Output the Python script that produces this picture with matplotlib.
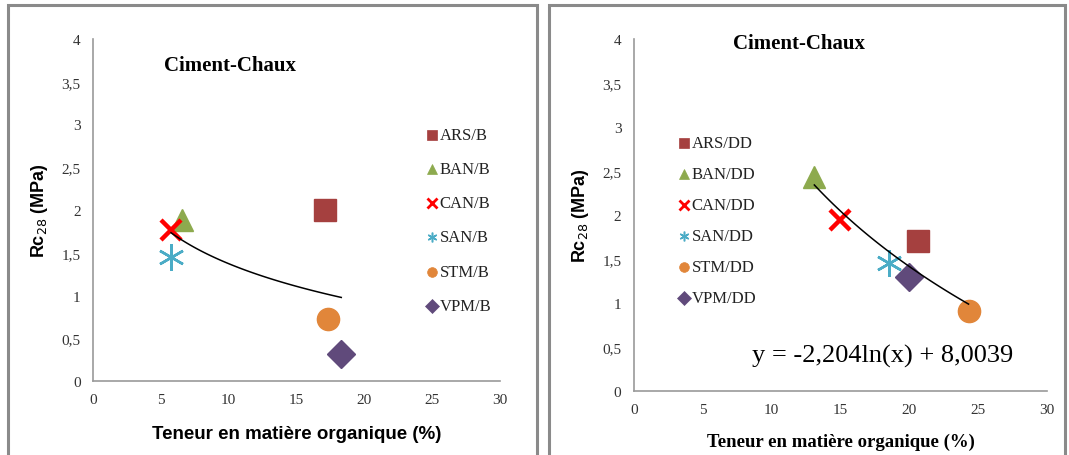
import numpy as np
import matplotlib
matplotlib.use("Agg")
import matplotlib.pyplot as plt
from matplotlib.patches import Rectangle

# --- DATA ---
NAMES = ['ARS', 'BAN', 'CAN', 'SAN', 'STM', 'VPM']
X_B = [17.1, 6.55, 5.75, 5.75, 17.3, 18.3]
Y_B = [2.00, 1.88, 1.77, 1.45, 0.72, 0.31]
X_DD = [20.6, 13.1, 14.95, 18.5, 24.3, 20.0]
Y_DD = [1.70, 2.43, 1.94, 1.46, 0.91, 1.29]
EQ_DD = 'y = -2,204ln(x) + 8,0039'

STAR = (6, 2, 0)
MARKERS = ['s', '^', 'x', STAR, 'o', 'D']
COLORS = ['#A5403F', '#8DAA4E', '#FF0000', '#4BACC6', '#E1863A', '#604A7B']
SIZES = [16, 16, 14, 19, 16, 14]

SERIF = 'Liberation Serif'
SANS = 'Liberation Sans'


def log_trend(x, y):
    a, b = np.polyfit(np.log(x), y, 1)
    xs = np.linspace(min(x), max(x), 100)
    return xs, a * np.log(xs) + b


def edge_width(m, big=True):
    if m == 'x':
        return 3.2 if big else 2.0
    if m == STAR:
        return 1.8 if big else 1.1
    return 1 if big else 0.5


def panel(fig, rect, xs, ys, suffix, xlab_font, xpad, title_xy, leg_x, leg_y, leg_dy):
    ax = fig.add_axes(rect)
    for i, name in enumerate(NAMES):
        m = MARKERS[i]
        ax.plot(xs[i], ys[i], linestyle='none', marker=m, ms=SIZES[i],
                color=COLORS[i], mec=COLORS[i], mew=edge_width(m), zorder=2)
        # legend entry drawn by hand (Excel-like spacing)
        ax.plot([leg_x], [leg_y - i * leg_dy], linestyle='none', marker=m,
                ms=7, color=COLORS[i], mec=COLORS[i], mew=edge_width(m, False),
                transform=ax.transAxes, clip_on=False)
        ax.text(leg_x + 0.02, leg_y - i * leg_dy, f'{name}/{suffix}',
                transform=ax.transAxes, va='center', ha='left',
                fontsize=12, family=SERIF, color='#222222')
    tx, ty = log_trend(xs, ys)
    ax.plot(tx, ty, color='black', lw=1.1, zorder=3)

    ax.set_xlim(0, 30)
    ax.set_ylim(0, 4)
    ax.set_xticks(np.arange(0, 31, 5))
    ax.set_yticks(np.arange(0, 4.01, 0.5))
    ax.set_yticklabels([f'{v:g}'.replace('.', ',') for v in np.arange(0, 4.01, 0.5)])
    for lab in ax.get_xticklabels() + ax.get_yticklabels():
        lab.set_family(SERIF)
        lab.set_fontsize(11)
        lab.set_color('#333333')
    ax.tick_params(length=0, pad=9)
    for s in ['top', 'right']:
        ax.spines[s].set_visible(False)
    for s in ['left', 'bottom']:
        ax.spines[s].set_color('#9a9a9a')
        ax.spines[s].set_linewidth(1.2)

    ax.set_ylabel('Rc$_{28}$ (MPa)', fontsize=13, fontweight='bold',
                  family=SANS, labelpad=8)
    ax.set_xlabel('Teneur en matière organique (%)', fontsize=13.5,
                  fontweight='bold', family=xlab_font, labelpad=xpad)
    ax.text(title_xy[0], title_xy[1], 'Ciment-Chaux', transform=ax.transAxes,
            fontsize=15, fontweight='bold', family=SERIF, ha='left', va='center')
    return ax


fig = plt.figure(figsize=(10.69, 4.56), dpi=100)
W, H = 1069, 456

# grey frames around the two panels
for x0, x1 in [(8, 537), (549, 1065)]:
    fig.patches.append(Rectangle((x0 / W, -0.05), (x1 - x0) / W, (H - 6) / H + 0.05,
                                 transform=fig.transFigure, fill=False,
                                 edgecolor='#8a8a8a', linewidth=2.2))

# left panel: axes from x 93..500, y 40..382 px
ax1 = panel(fig, [93 / W, 1 - 382 / H, 407 / W, 342 / H], X_B, Y_B, 'B',
            SANS, 13, (0.175, 0.925), 0.832, 0.72, 0.1)

# right panel: axes from x 634..1047, y 40..392 px
ax2 = panel(fig, [634 / W, 1 - 392 / H, 413 / W, 352 / H], X_DD, Y_DD, 'DD',
            SERIF, 12, (0.24, 0.99), 0.12, 0.705, 0.088)
ax2.text(0.285, 0.10, EQ_DD, transform=ax2.transAxes, fontsize=19,
         family=SERIF, ha='left', va='center')

fig.savefig('out.png', dpi=100)
